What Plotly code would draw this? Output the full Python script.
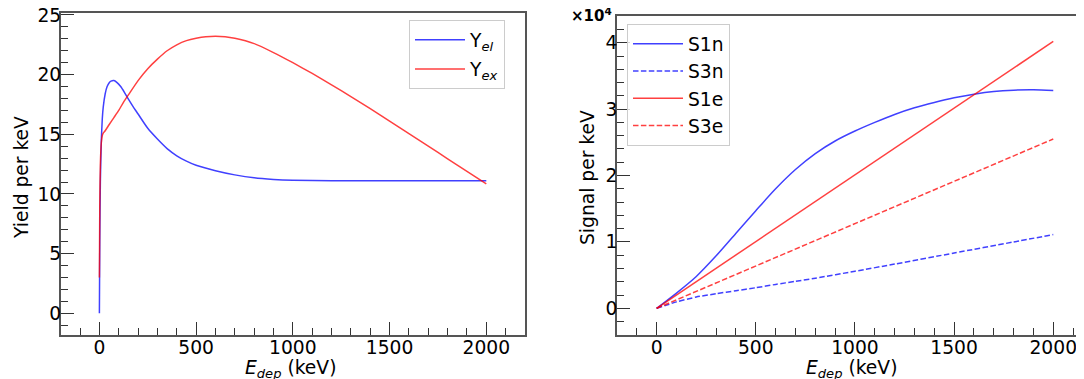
import plotly.graph_objects as go

# ---------------- data ----------------
# Left panel: yields per keV
yel_E = [0, 2, 5, 10, 15, 20, 30, 40, 50, 60, 75, 90, 110, 130, 150, 175, 200,
         250, 300, 350, 400, 450, 500, 600, 700, 800, 900, 1000, 1200, 1500, 1800, 2000]
yel_Y = [0, 6, 11, 14.5, 16.3, 17.3, 18.4, 19.0, 19.3, 19.45, 19.5, 19.35, 19.0,
         18.5, 17.95, 17.3, 16.7, 15.5, 14.6, 13.8, 13.2, 12.75, 12.4, 11.95, 11.6,
         11.35, 11.22, 11.15, 11.1, 11.1, 11.1, 11.1]

yex_E = [0, 2, 5, 10, 15, 20, 30, 50, 75, 100, 125, 150, 200, 250, 300, 350, 400,
         450, 500, 550, 600, 650, 700, 800, 900, 1000, 1100, 1200, 1300, 1400,
         1500, 1600, 1700, 1800, 1900, 2000]
yex_Y = [3.0, 9.0, 12.5, 14.3, 14.9, 15.1, 15.3, 15.8, 16.4, 17.0, 17.7, 18.3,
         19.5, 20.5, 21.3, 22.0, 22.5, 22.85, 23.05, 23.18, 23.22, 23.18, 23.05,
         22.6, 21.85, 21.0, 20.1, 19.15, 18.15, 17.15, 16.1, 15.05, 14.0, 12.95,
         11.9, 10.85]

# Right panel: signals per keV
s1n_E = [0, 100, 200, 300, 400, 500, 600, 700, 800, 900, 1000, 1100, 1200, 1300,
         1400, 1500, 1600, 1700, 1800, 1900, 2000]
s1n_S = [0, 2300, 4800, 7900, 11300, 14700, 18000, 20900, 23300, 25200, 26700,
         28000, 29200, 30200, 31000, 31700, 32250, 32650, 32850, 32900, 32800]

s3n_E = [0, 50, 100, 200, 300, 400, 500, 600, 700, 800, 1000, 1200, 1500, 1800, 2000]
s3n_S = [0, 480, 970, 1700, 2200, 2650, 3100, 3600, 4060, 4540, 5580, 6660,
         8330, 9990, 11100]

s1e_E = [0, 500, 1000, 1500, 2000]
s1e_S = [0, 10050, 20100, 30150, 40200]

s3e_E = [0, 500, 1000, 1500, 2000]
s3e_S = [0, 6375, 12750, 19125, 25500]

sig_tickvals = [0, 10000, 20000, 30000, 40000]
sig_ticktext = ["0", "1", "2", "3", "4"]

# ---------------- styling ----------------
# the page body has an 8px margin, so the figure is drawn 8px smaller and
# every reference pixel position is shifted by that offset
OFF = 8
W, H = 1084 - OFF, 379 - OFF
FONT = "DejaVu Sans"
FS = 18.7
BLUE = "rgba(0,0,255,0.75)"
RED = "rgba(255,0,0,0.75)"
DASH = "5.5px,2.4px"
LINE_COL = "#555555"
TICK_COL = "#333333"


def px_x(p):
    return (p - OFF) / W


def px_y(p):
    return 1 - (p - OFF) / H


fig = go.Figure()

fig.add_trace(go.Scatter(x=yel_E, y=yel_Y, mode="lines", name="Y<sub><i>el</i></sub>",
                         line=dict(color=BLUE, width=1.5, shape="spline", smoothing=0.6),
                         xaxis="x", yaxis="y", legend="legend", legendgroup="a"))
fig.add_trace(go.Scatter(x=yex_E, y=yex_Y, mode="lines", name="Y<sub><i>ex</i></sub>",
                         line=dict(color=RED, width=1.5, shape="spline", smoothing=0.6),
                         xaxis="x", yaxis="y", legend="legend", legendgroup="b"))

fig.add_trace(go.Scatter(x=s1n_E, y=s1n_S, mode="lines", name="S1n",
                         line=dict(color=BLUE, width=1.5, shape="spline", smoothing=0.8),
                         xaxis="x2", yaxis="y2", legend="legend2", legendgroup="c"))
fig.add_trace(go.Scatter(x=s3n_E, y=s3n_S, mode="lines", name="S3n",
                         line=dict(color=BLUE, width=1.5, dash=DASH, shape="spline", smoothing=0.6),
                         xaxis="x2", yaxis="y2", legend="legend2", legendgroup="d"))
fig.add_trace(go.Scatter(x=s1e_E, y=s1e_S, mode="lines", name="S1e",
                         line=dict(color=RED, width=1.5),
                         xaxis="x2", yaxis="y2", legend="legend2", legendgroup="e"))
fig.add_trace(go.Scatter(x=s3e_E, y=s3e_S, mode="lines", name="S3e",
                         line=dict(color=RED, width=1.5, dash=DASH),
                         xaxis="x2", yaxis="y2", legend="legend2", legendgroup="f"))

common = dict(
    showgrid=False, zeroline=False, showline=True, linecolor=LINE_COL, linewidth=1.6,
    ticks="inside", ticklen=13, tickwidth=1.3, tickcolor=TICK_COL,
    tickfont=dict(family=FONT, size=FS, color="black"),
    automargin=False, ticklabeloverflow="allow",
)


def minor(step):
    return dict(dtick=step, tick0=0, ticks="inside", ticklen=7, tickwidth=1.3,
                tickcolor=TICK_COL)


fig.update_layout(
    width=W, height=H,
    margin=dict(l=0, r=0, t=0, b=0, autoexpand=False),
    paper_bgcolor="white", plot_bgcolor="white",
    font=dict(family=FONT, size=FS, color="black"),
    xaxis=dict(**common, domain=[px_x(60.7), px_x(525)], range=[-200, 2200],
               tick0=0, dtick=500, mirror=True, anchor="y", minor=minor(100),
               ticklabelstandoff=-5),
    yaxis=dict(**common, domain=[px_y(335), px_y(13.3)], range=[-1.82, 25.14],
               tick0=0, dtick=5, mirror=True, anchor="x", minor=minor(1),
               ticklabelstandoff=-6),
    xaxis2=dict(**common, domain=[px_x(617), 1.0], range=[-200, 2155],
                tick0=0, dtick=500, mirror=True, anchor="y2", minor=minor(100),
                ticklabelstandoff=-5),
    yaxis2=dict(**common, domain=[px_y(335), px_y(15.7)], range=[-4020, 44070],
                tickvals=sig_tickvals, ticktext=sig_ticktext, mirror=False, anchor="x2",
                minor=minor(2000), ticklabelstandoff=-6),
    legend=dict(x=px_x(409), y=px_y(20), xanchor="left", yanchor="top",
                xref="paper", yref="paper",
                bgcolor="rgba(255,255,255,0.8)", bordercolor="#cccccc", borderwidth=1,
                font=dict(family=FONT, size=FS, color="black"),
                traceorder="grouped", tracegroupgap=2, itemwidth=50),
    legend2=dict(x=px_x(627), y=px_y(24), xanchor="left", yanchor="top",
                 xref="paper", yref="paper",
                 bgcolor="rgba(255,255,255,0.8)", bordercolor="#cccccc", borderwidth=1,
                 font=dict(family=FONT, size=FS, color="black"),
                 traceorder="grouped", tracegroupgap=0, itemwidth=50),
    showlegend=True,
)

title_font = dict(family=FONT, size=FS, color="black")
# axis titles
fig.add_annotation(text="<i>E<sub>dep</sub></i> (keV)", xref="paper", yref="paper",
                   x=px_x(290), y=px_y(369), xanchor="center", yanchor="middle",
                   showarrow=False, font=title_font)
fig.add_annotation(text="<i>E<sub>dep</sub></i> (keV)", xref="paper", yref="paper",
                   x=px_x(851), y=px_y(369), xanchor="center", yanchor="middle",
                   showarrow=False, font=title_font)
fig.add_annotation(text="Yield per keV", xref="paper", yref="paper",
                   x=px_x(21), y=px_y(178), xanchor="center", yanchor="middle",
                   textangle=-90, showarrow=False, font=title_font)
fig.add_annotation(text="Signal per keV", xref="paper", yref="paper",
                   x=px_x(587), y=px_y(178), xanchor="center", yanchor="middle",
                   textangle=-90, showarrow=False, font=title_font)

# offset text of the signal axis
fig.add_annotation(text="<b>×10<sup>4</sup></b>", xref="paper", yref="paper",
                   x=px_x(614), y=px_y(27), xanchor="right", yanchor="bottom",
                   showarrow=False, font=dict(family=FONT, size=15, color="black"))

fig.write_html("out.html")
